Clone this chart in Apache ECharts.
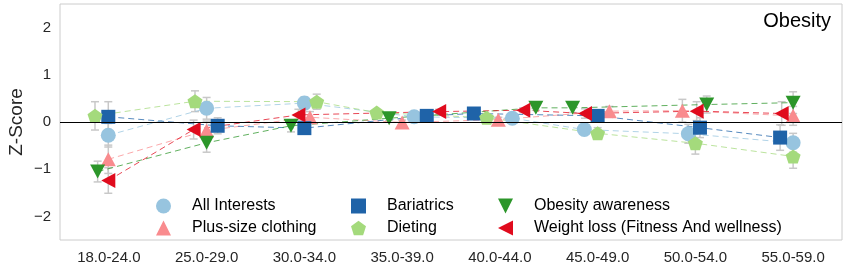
<!DOCTYPE html>
<html>
<head>
<meta charset="utf-8">
<script src="https://cdn.jsdelivr.net/npm/echarts@6/dist/echarts.min.js"></script>
<style>html,body{margin:0;padding:0;background:#fff;}#c{width:846px;height:270px;}</style>
</head>
<body>
<div id="c"></div>
<script>
// ---- data ----
var categories = ['18.0-24.0','25.0-29.0','30.0-34.0','35.0-39.0','40.0-44.0','45.0-49.0','50.0-54.0','55.0-59.0'];
var yTicks = [-2, -1, 0, 1, 2];
var chartTitle = 'Obesity';

var allInterests      = [-0.28, 0.29, 0.40, 0.11, 0.08, -0.16, -0.25, -0.44];
var plusSizeClothing  = [-0.79, -0.18, 0.10, -0.01, 0.05, 0.23, 0.24, 0.13];
var bariatrics        = [0.11, -0.08, -0.13, 0.13, 0.18, 0.13, -0.12, -0.33];
var dieting           = [0.13, 0.44, 0.43, 0.20, 0.09, -0.24, -0.45, -0.73];
var obesityAwareness  = [-1.05, -0.44, -0.08, 0.08, 0.30, 0.30, 0.37, 0.41];
var weightLoss        = [-1.24, -0.16, 0.15, 0.22, 0.25, 0.18, 0.23, 0.18];

// confidence-interval half widths
var allInterestsErr     = [0.25, 0.23, 0.13, 0.05, 0.05, 0.10, 0.20, 0.20];
var plusSizeClothingErr = [0.30, 0.20, 0.12, 0.05, 0.05, 0.10, 0.24, 0.20];
var bariatricsErr       = [0.32, 0.17, 0.12, 0.05, 0.05, 0.08, 0.21, 0.27];
var dietingErr          = [0.30, 0.22, 0.16, 0.05, 0.05, 0.12, 0.23, 0.25];
var obesityAwarenessErr = [0.22, 0.20, 0.13, 0.05, 0.05, 0.10, 0.18, 0.23];
var weightLossErr       = [0.27, 0.20, 0.12, 0.05, 0.05, 0.10, 0.20, 0.25];

// dodge (in category units)
var allInterestsDodge     = [-0.006, 0, 0, 0.123, 0.127, -0.136, -0.072, 0];
var plusSizeClothingDodge = [-0.006, 0, 0.057, 0, -0.016, 0.120, -0.133, 0];
var bariatricsDodge       = [-0.006, 0.113, 0, 0.252, -0.266, 0, 0.047, -0.133];
var dietingDodge          = [-0.142, -0.119, 0.126, -0.260, -0.135, 0, 0, 0];
var obesityAwarenessDodge = [-0.115, 0, -0.137, -0.133, 0.368, -0.256, 0.116, 0];
var weightLossDodge       = [-0.006, -0.133, -0.061, 0.379, 0.239, -0.129, 0.013, -0.117];

// ---- styling ----
var FONT = '"Liberation Sans", Arial, sans-serif';
var SYM = {
  circle: 'circle',
  square: 'rect',
  up: 'path://M1,0 L2,2 L0,2 Z',
  down: 'path://M0,0 L2,0 L1,2 Z',
  left: 'path://M2,0 L2,2 L0,1 Z',
  pentagon: 'path://M0,-1 L0.951,-0.309 L0.588,0.809 L-0.588,0.809 L-0.951,-0.309 Z'
};

var seriesDefs = [
  {name: 'All Interests', vals: allInterests, err: allInterestsErr, dodge: allInterestsDodge, color: '#97c4df', sym: SYM.circle, size: 15},
  {name: 'Plus-size clothing', vals: plusSizeClothing, err: plusSizeClothingErr, dodge: plusSizeClothingDodge, color: '#f98b8e', sym: SYM.up, size: [15, 14]},
  {name: 'Bariatrics', vals: bariatrics, err: bariatricsErr, dodge: bariatricsDodge, color: '#1f63a8', sym: SYM.square, size: 14},
  {name: 'Dieting', vals: dieting, err: dietingErr, dodge: dietingDodge, color: '#a4da7c', sym: SYM.pentagon, size: [15, 14]},
  {name: 'Obesity awareness', vals: obesityAwareness, err: obesityAwarenessErr, dodge: obesityAwarenessDodge, color: '#2c962a', sym: SYM.down, size: [15, 14]},
  {name: 'Weight loss (Fitness And wellness)', vals: weightLoss, err: weightLossErr, dodge: weightLossDodge, color: '#e00b1d', sym: SYM.left, size: [14, 15]}
];

var series = [];
seriesDefs.forEach(function (d, si) {
  var errData = d.vals.map(function (v, i) { return [i + d.dodge[i], v - d.err[i], v + d.err[i]]; });
  series.push({
    type: 'custom',
    xAxisIndex: 1,
    z: 1,
    silent: true,
    data: errData,
    renderItem: function (params, api) {
      var x = api.value(0);
      var lo = api.coord([x, api.value(1)]);
      var hi = api.coord([x, api.value(2)]);
      var cw = 4;
      var st = {stroke: '#c8c8c8', lineWidth: 1.5};
      return {type: 'group', children: [
        {type: 'line', shape: {x1: lo[0], y1: lo[1], x2: hi[0], y2: hi[1]}, style: st},
        {type: 'line', shape: {x1: lo[0] - cw, y1: lo[1], x2: lo[0] + cw, y2: lo[1]}, style: st},
        {type: 'line', shape: {x1: hi[0] - cw, y1: hi[1], x2: hi[0] + cw, y2: hi[1]}, style: st}
      ]};
    }
  });
});
seriesDefs.forEach(function (d, si) {
  var s = {
    name: d.name,
    type: 'line',
    xAxisIndex: 1,
    z: 3,
    data: d.vals.map(function (v, i) { return [i + d.dodge[i], v]; }),
    symbol: d.sym,
    symbolSize: d.size,
    showAllSymbol: true,
    itemStyle: {color: d.color, opacity: 1},
    lineStyle: {color: d.color, width: 1, type: [6, 4], opacity: 0.75},
    animation: false
  };
  if (si === 0) {
    s.markLine = {
      silent: true, symbol: ['none', 'none'], label: {show: false},
      lineStyle: {color: '#000', width: 1, type: 'solid'},
      data: [{yAxis: 0}], animation: false
    };
  }
  series.push(s);
});

function legendCol(left, idxs) {
  return {
    orient: 'vertical', left: left, top: 193, itemGap: 6,
    itemWidth: 15, itemHeight: 15,
    textStyle: {fontFamily: FONT, fontSize: 16, color: '#000', padding: [0, 0, 0, 16]},
    selectedMode: false,
    data: idxs.map(function (i) { return {name: seriesDefs[i].name, icon: seriesDefs[i].sym}; })
  };
}

var option = {
  animation: false,
  backgroundColor: '#fff',
  title: {text: chartTitle, right: 10, top: 6, textStyle: {fontFamily: FONT, fontSize: 20, fontWeight: 'normal', color: '#000'}},
  grid: {left: 60, right: 4, top: 4, bottom: 30, show: true, borderColor: '#cccccc', borderWidth: 1,
         containLabel: false, outerBoundsMode: 'none'},
  legend: [legendCol(151, [0, 1]), legendCol(346, [2, 3]), legendCol(493, [4, 5])],
  xAxis: [
    {type: 'category', data: categories, boundaryGap: true,
     axisLine: {show: false}, axisTick: {show: false}, splitLine: {show: false},
     axisLabel: {fontFamily: FONT, fontSize: 15, color: '#262626', margin: 10}},
    {type: 'value', min: -0.5, max: 7.5, show: false, splitLine: {show: false}}
  ],
  yAxis: {
    type: 'value', min: -2.5, max: 2.5,
    name: 'Z-Score', nameLocation: 'middle', nameGap: 34, nameRotate: 90, nameMoveOverlap: false,
    nameTextStyle: {fontFamily: FONT, fontSize: 19, color: '#262626'},
    axisLine: {show: false}, axisTick: {show: false}, splitLine: {show: false},
    axisLabel: {fontFamily: FONT, fontSize: 15, color: '#262626', margin: 9,
      customValues: yTicks,
      formatter: function (v) { return String(v).replace('-', '\u2212'); }}
  },
  series: series
};

var chart = echarts.init(document.getElementById('c'), null, {renderer: 'canvas'});
chart.setOption(option);
</script>
</body>
</html>
